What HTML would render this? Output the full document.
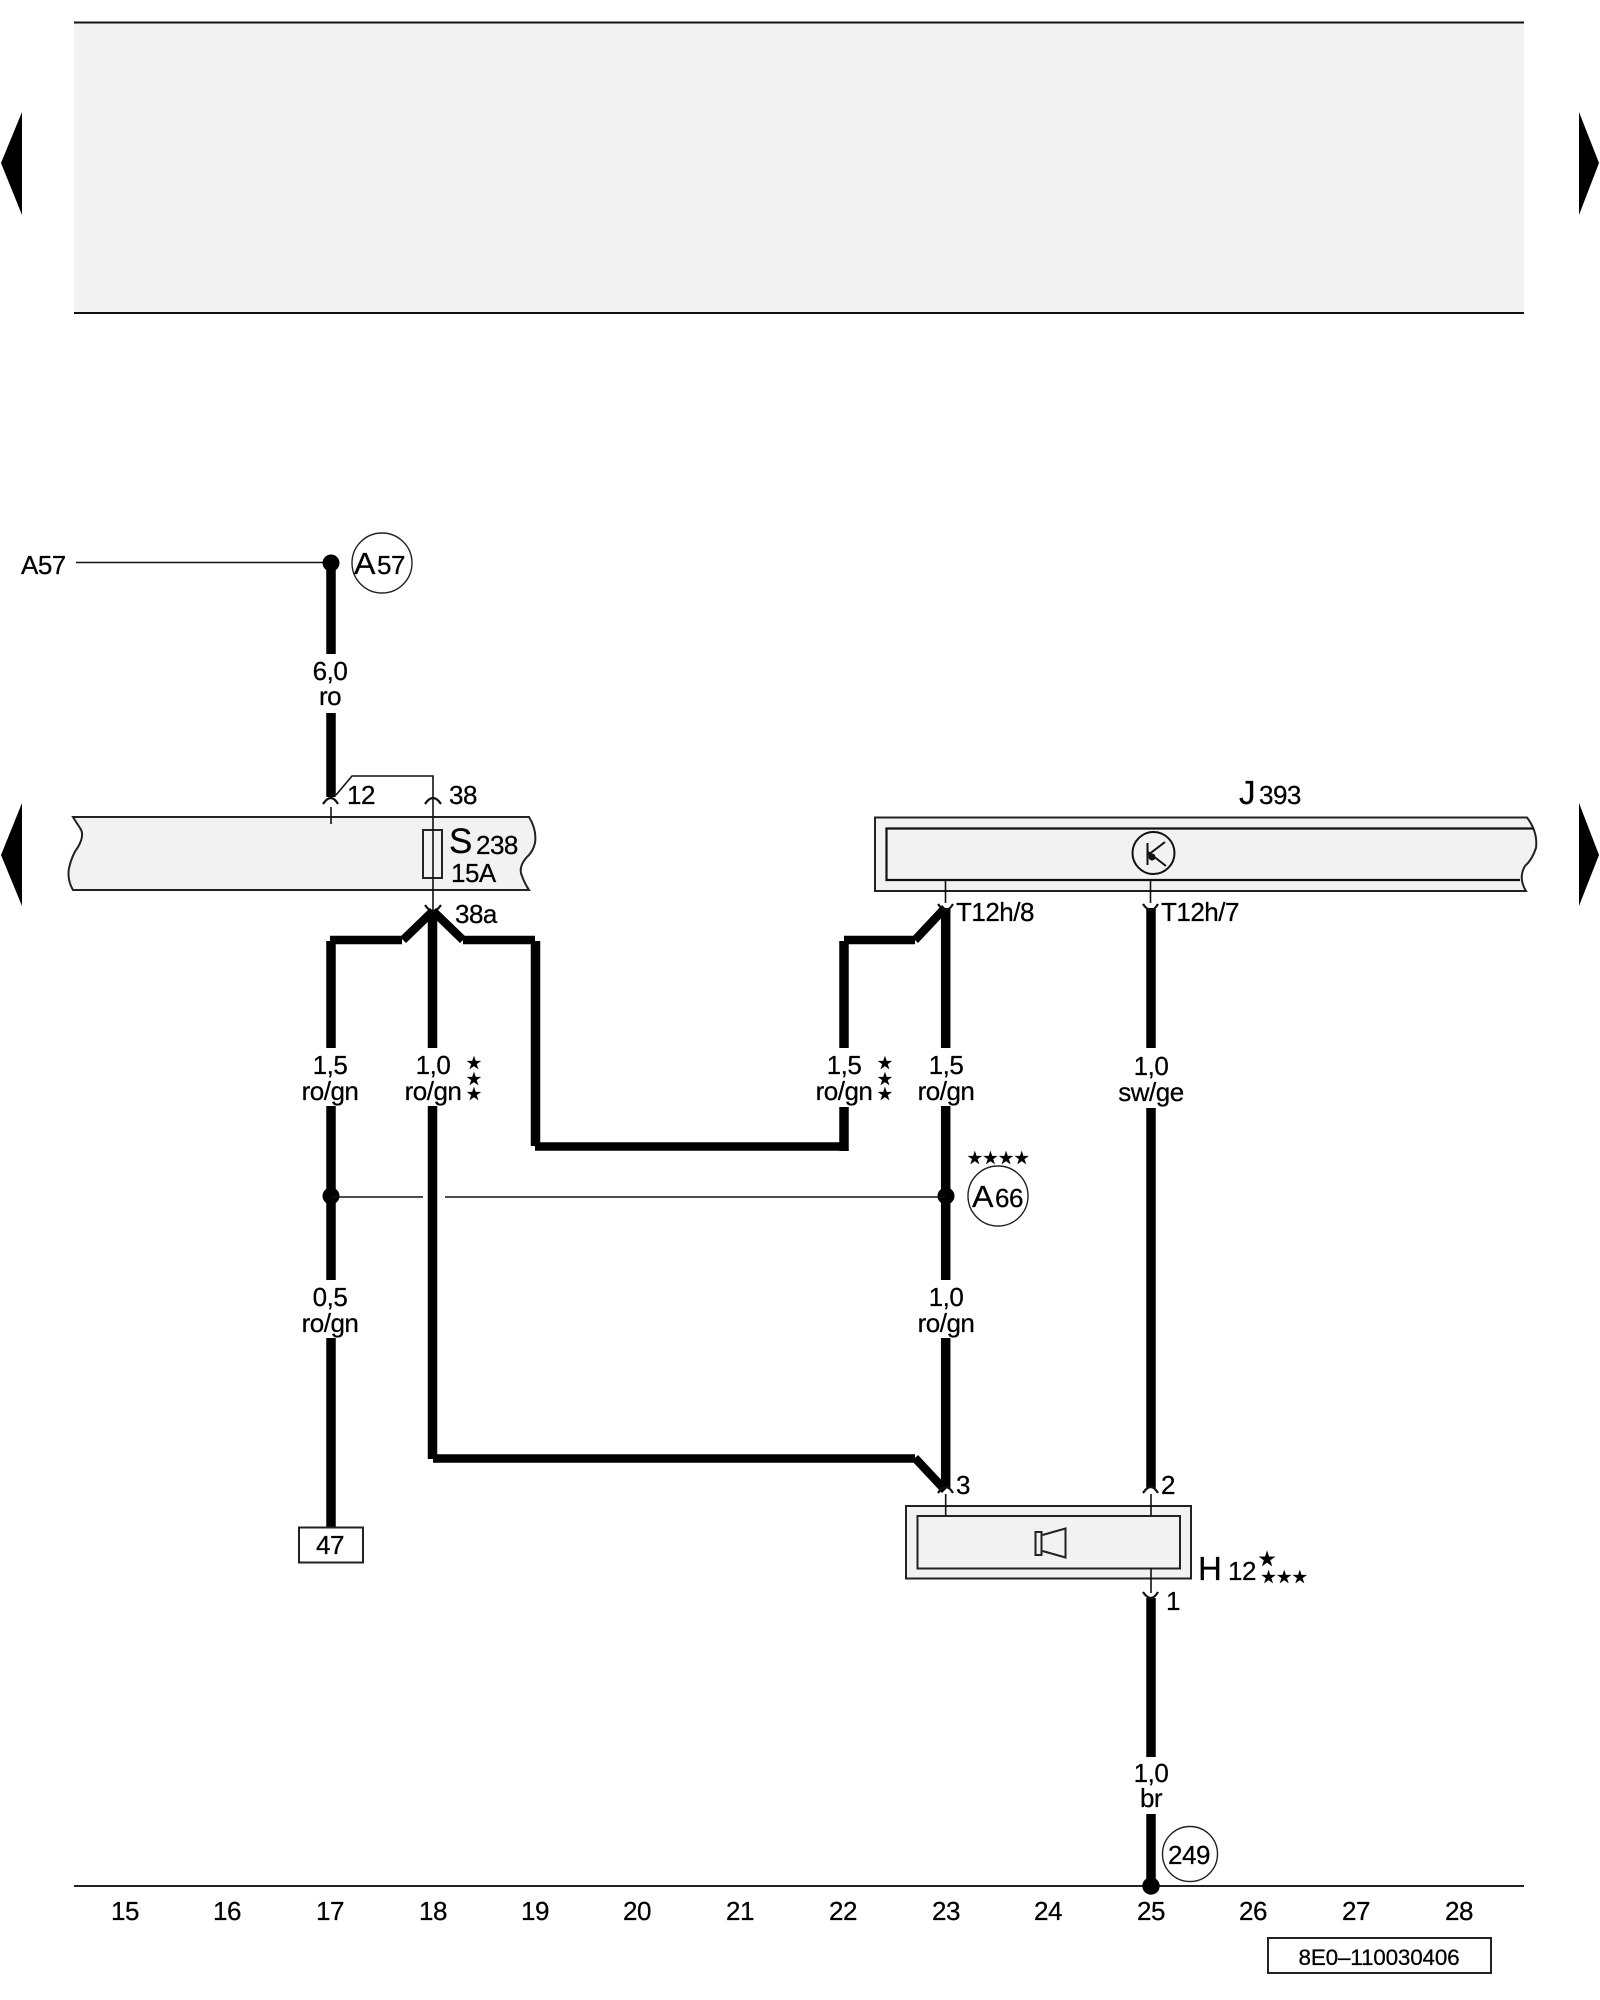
<!DOCTYPE html>
<html><head><meta charset="utf-8"><style>
html,body{margin:0;padding:0;background:#fff}
svg{display:block}
text{font-family:"Liberation Sans",sans-serif;font-size:26px;letter-spacing:-.5px;fill:#000;stroke:#000;stroke-width:.25px}
.m{text-anchor:middle}
.w{stroke:#000;stroke-width:9.5;fill:none}
.h{stroke:#000;stroke-width:8.5;fill:none}
.t{stroke:#111;stroke-width:1.6;fill:none}
.c{stroke:#111;stroke-width:2.2;fill:none}
.b{stroke:#222;stroke-width:2;fill:#f2f2f2}
.s{font-family:"DejaVu Sans",sans-serif;font-size:18px;letter-spacing:0;text-anchor:middle;fill:#000}
</style></head><body>
<svg width="1600" height="2000" viewBox="0 0 1600 2000" xmlns="http://www.w3.org/2000/svg">
<rect x="74" y="22" width="1450" height="291" fill="#f2f2f2"/>
<path d="M74 22.5H1524M74 313H1524" stroke="#111" stroke-width="2" fill="none"/>
<path d="M1 163L22 112V215Z M1 855L22 803V906Z M1599 163L1579 112V215Z M1599 855L1579 803V906Z" fill="#000"/>

<!-- bars -->
<path class="b" d="M73 817H529Q537 830 535 843Q533 852 526 858Q518 868 522 876Q525 884 529 890H73Q67 880 69 868Q72 855 78 847Q85 835 80 828Q76 822 73 817Z"/>
<path class="b" d="M875 817.5H1527Q1538 832 1536 848Q1532 860 1525 866Q1518 878 1526 891H875Z"/>
<path class="t" style="stroke-width:2.2" d="M1534 828.5H886.5V880H1520"/>
<rect x="423" y="830" width="19" height="48" fill="none" stroke="#222" stroke-width="2"/>

<!-- A57 -->
<path class="t" d="M76 562.5H325"/>
<circle cx="331" cy="563" r="8.5" fill="#000"/>
<path class="w" d="M331 563V654M331 713V797"/>
<circle cx="382" cy="563" r="30" fill="none" stroke="#222" stroke-width="1.4"/>
<text x="354" y="574" style="font-size:31px" textLength="21" lengthAdjust="spacingAndGlyphs">A</text>
<text x="377" y="574" style="font-size:26px">57</text>
<text x="21" y="574">A57</text>
<text x="330" y="680" class="m">6,0</text>
<text x="330" y="705" class="m">ro</text>

<!-- connectors -->
<path class="t" d="M336 795L352 776H433V910"/>
<path class="c" d="M323 804Q331 792 338 804M425 804Q433 792 441 804"/>
<path class="t" d="M331 807V824"/>
<text x="347" y="804">12</text>
<text x="449" y="804">38</text>
<text x="449" y="853" style="font-size:35px">S</text>
<text x="476" y="854">238</text>
<text x="451" y="882">15A</text>
<text x="455" y="923">38a</text>
<path class="c" d="M425 905Q433 917 441 905"/>

<!-- junction under S238 -->
<polygon points="430,908 436,914 406,943 400,937" fill="#000"/>
<polygon points="436,908 430,914 460,943 466,937" fill="#000"/>
<path class="w" d="M432.5 911V1048M432.5 1106V1459"/>
<path class="h" d="M330 940H402M463 940H535"/>
<path class="w" d="M331 941V1048M331 1106V1280M331 1338V1528"/>
<path class="w" d="M535.5 941V1146"/>
<path class="h" d="M535 1146.5H843"/>
<path class="w" d="M844 1151V1107M844 1048V941"/>
<path class="h" d="M844 940H915"/>
<polygon points="942,905 948,911 918,943 912,937" fill="#000"/>
<path class="w" d="M945.7 908V1048M945.7 1106V1280M945.7 1338V1488"/>
<path class="h" d="M433 1458.5H915"/>
<polygon points="918,1455 912,1461 942,1493 948,1487" fill="#000"/>
<path class="w" d="M1151 908V1048M1151 1108V1488M1151 1598V1757M1151 1814V1886"/>

<!-- cross link -->
<circle cx="331" cy="1196" r="8.5" fill="#000"/>
<circle cx="946" cy="1196" r="8.5" fill="#000"/>
<path class="t" d="M331 1197H423M445 1197H946"/>

<!-- J393 -->
<text x="1239" y="804" style="font-size:33px">J</text>
<text x="1259" y="804">393</text>
<circle cx="1153.5" cy="853" r="21" fill="none" stroke="#111" stroke-width="2"/>
<path d="M1147.5 843V865M1165 842L1148 855M1148 852L1166 866" stroke="#111" stroke-width="2" fill="none"/>
<circle cx="1152" cy="857" r="3.5" fill="#111"/>
<path class="t" d="M945.5 880V903M1150.5 880V903"/>
<path class="c" d="M938 904Q946 916 953 904M1143 904Q1151 916 1158 904"/>
<text x="956" y="921">T12h/8</text>
<text x="1161" y="921">T12h/7</text>

<!-- wire labels -->
<text x="330" y="1074" class="m">1,5</text><text x="330" y="1100" class="m">ro/gn</text>
<text x="433" y="1074" class="m">1,0</text><text x="433" y="1100" class="m">ro/gn</text>
<text x="844" y="1074" class="m">1,5</text><text x="844" y="1100" class="m">ro/gn</text>
<text x="946" y="1074" class="m">1,5</text><text x="946" y="1100" class="m">ro/gn</text>
<text x="1151" y="1075" class="m">1,0</text><text x="1151" y="1101" class="m">sw/ge</text>
<text x="330" y="1306" class="m">0,5</text><text x="330" y="1332" class="m">ro/gn</text>
<text x="946" y="1306" class="m">1,0</text><text x="946" y="1332" class="m">ro/gn</text>
<text x="1151" y="1782" class="m">1,0</text><text x="1151" y="1807" class="m">br</text>
<text x="474" y="1069" class="s">★</text><text x="474" y="1085" class="s">★</text><text x="474" y="1100" class="s">★</text>
<text x="885" y="1069" class="s">★</text><text x="885" y="1085" class="s">★</text><text x="885" y="1100" class="s">★</text>
<text x="998" y="1164" class="s" style="letter-spacing:-.5px">★★★★</text>

<!-- A66 -->
<circle cx="998" cy="1196" r="30" fill="none" stroke="#222" stroke-width="1.4"/>
<text x="972" y="1207" style="font-size:31px" textLength="21" lengthAdjust="spacingAndGlyphs">A</text>
<text x="995" y="1207" style="font-size:26px">66</text>

<!-- 47 -->
<rect x="299" y="1527.5" width="64" height="35" fill="#fff" stroke="#222" stroke-width="2"/>
<text x="330" y="1554" class="m">47</text>

<!-- H12 -->
<rect x="906" y="1506" width="285" height="72.5" fill="#f2f2f2" stroke="#222" stroke-width="2"/>
<rect x="917.5" y="1516" width="262.5" height="52.5" fill="#f2f2f2" stroke="#222" stroke-width="2"/>
<path class="c" d="M938 1493Q946 1481 953 1493M1143 1493Q1151 1481 1158 1493M1143 1592Q1151 1604 1158 1592"/>
<path class="t" d="M945.7 1494V1516M1151 1494V1516M1151 1568V1593"/>
<rect x="1035.5" y="1532" width="6" height="23" fill="none" stroke="#222" stroke-width="2"/>
<path d="M1042.5 1535L1065.5 1528.5V1557.5L1042.5 1551" fill="none" stroke="#222" stroke-width="2"/>
<text x="956" y="1494">3</text>
<text x="1161" y="1494">2</text>
<text x="1166" y="1610">1</text>
<text x="1198" y="1580" style="font-size:33px">H</text>
<text x="1228" y="1580">12</text>
<text x="1267" y="1566" class="s" style="font-size:21px">★</text>
<text x="1284" y="1583" class="s" style="letter-spacing:-.5px">★★★</text>

<!-- bottom -->
<circle cx="1190" cy="1854" r="27.5" fill="none" stroke="#222" stroke-width="1.4"/>
<text x="1189" y="1864" class="m">249</text>
<path d="M74 1886H1524" stroke="#222" stroke-width="2"/>
<circle cx="1151" cy="1886" r="8.7" fill="#000"/>
<g>
<text x="125" y="1920" class="m">15</text><text x="227" y="1920" class="m">16</text><text x="330" y="1920" class="m">17</text><text x="433" y="1920" class="m">18</text><text x="535" y="1920" class="m">19</text><text x="637" y="1920" class="m">20</text><text x="740" y="1920" class="m">21</text><text x="843" y="1920" class="m">22</text><text x="946" y="1920" class="m">23</text><text x="1048" y="1920" class="m">24</text><text x="1151" y="1920" class="m">25</text><text x="1253" y="1920" class="m">26</text><text x="1356" y="1920" class="m">27</text><text x="1459" y="1920" class="m">28</text>
</g>
<rect x="1268" y="1938" width="223" height="35" fill="#fff" stroke="#222" stroke-width="2"/>
<text x="1379" y="1965" class="m" style="font-size:22.5px;letter-spacing:-.2px">8E0–110030406</text>
</svg>
</body></html>
